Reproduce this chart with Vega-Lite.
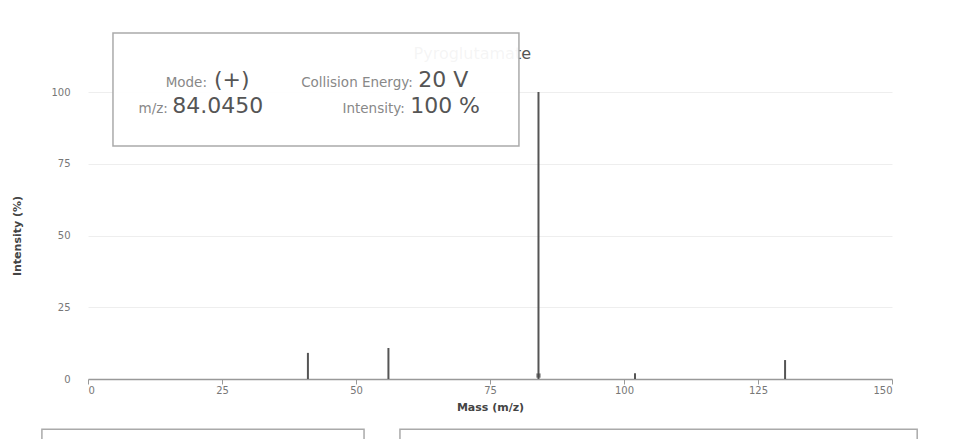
{
  "$schema": "https://vega.github.io/schema/vega-lite/v6.json",
  "width": 804,
  "height": 287,
  "autosize": {"type": "none"},
  "padding": {"left": 88, "top": 92, "right": 87, "bottom": 60},
  "background": "white",
  "config": {
    "font": "DejaVu Sans",
    "view": {"stroke": null},
    "axis": {"labelFont": "DejaVu Sans", "titleFont": "DejaVu Sans"}
  },
  "datasets": {
    "peaks": [
      {"mz": 41.03, "intensity": 9.1, "base": 0},
      {"mz": 56.05, "intensity": 10.8, "base": 0},
      {"mz": 84.045, "intensity": 100, "base": 0},
      {"mz": 102.05, "intensity": 2.0, "base": 0},
      {"mz": 130.05, "intensity": 6.6, "base": 0}
    ],
    "marker": [{"mz": 84.045, "intensity": 1.2}],
    "heading": [{"x": 82.65, "y": 111.5, "label": "Pyroglutamate"}],
    "box": [{"x": 4.66, "x2": 80.4, "y": 120.6, "y2": 81.2}],
    "smallText": [
      {"x": 22.2, "y": 101.7, "label": "Mode:"},
      {"x": 60.6, "y": 101.7, "label": "Collision Energy:"},
      {"x": 14.9, "y": 92.7, "label": "m/z:"},
      {"x": 59.1, "y": 92.7, "label": "Intensity:"}
    ],
    "bigText": [
      {"x": 23.5, "y": 101.7, "label": "(+)"},
      {"x": 61.6, "y": 101.7, "label": "20 V"},
      {"x": 15.7, "y": 92.7, "label": "84.0450"},
      {"x": 60.1, "y": 92.7, "label": "100 %"}
    ],
    "bottomBoxes": [
      {"x": -8.6, "x2": 51.5, "y": -17.5, "y2": -40},
      {"x": 58.2, "x2": 154.7, "y": -17.5, "y2": -40}
    ]
  },
  "layer": [
    {
      "data": {"name": "peaks"},
      "mark": {"type": "rule", "color": "#555555", "strokeWidth": 2},
      "encoding": {
        "x": {
          "field": "mz", "type": "quantitative",
          "scale": {"domain": [0, 150], "nice": false},
          "axis": {
            "values": [0, 25, 50, 75, 100, 125, 150],
            "title": "Mass (m/z)",
            "titleFontWeight": "bold",
            "titleFontSize": 11,
            "titleColor": "#444444",
            "titlePadding": 6,
            "labelFontSize": 10,
            "labelColor": "#777777",
            "labelPadding": 1,
            "domainColor": "#999999",
            "domainWidth": 1.5,
            "tickColor": "#999999",
            "tickSize": 5,
            "grid": false
          }
        },
        "y": {
          "field": "intensity", "type": "quantitative",
          "scale": {"domain": [0, 100], "nice": false},
          "axis": {
            "values": [0, 25, 50, 75, 100],
            "title": "Intensity (%)",
            "titleFontWeight": "bold",
            "titleFontSize": 11,
            "titleColor": "#444444",
            "titlePadding": 28,
            "labelFontSize": 10,
            "labelColor": "#777777",
            "labelPadding": 18,
            "domain": false,
            "ticks": false,
            "grid": true,
            "gridColor": "#eeeeee",
            "gridWidth": 1
          }
        },
        "y2": {"field": "base"}
      }
    },
    {
      "data": {"name": "marker"},
      "mark": {"type": "point", "shape": "square", "filled": true, "color": "#444444", "size": 18},
      "encoding": {
        "x": {"field": "mz", "type": "quantitative"},
        "y": {"field": "intensity", "type": "quantitative"}
      }
    },
    {
      "data": {"name": "heading"},
      "mark": {"type": "text", "align": "right", "baseline": "alphabetic", "fontSize": 16, "color": "#555555"},
      "encoding": {
        "x": {"field": "x", "type": "quantitative"},
        "y": {"field": "y", "type": "quantitative"},
        "text": {"field": "label"}
      }
    },
    {
      "data": {"name": "box"},
      "mark": {"type": "rect", "fill": "white", "fillOpacity": 0.94, "stroke": "#aaaaaa", "strokeWidth": 1.5},
      "encoding": {
        "x": {"field": "x", "type": "quantitative"},
        "x2": {"field": "x2"},
        "y": {"field": "y", "type": "quantitative"},
        "y2": {"field": "y2"}
      }
    },
    {
      "data": {"name": "smallText"},
      "mark": {"type": "text", "align": "right", "baseline": "alphabetic", "fontSize": 13.5, "color": "#888888"},
      "encoding": {
        "x": {"field": "x", "type": "quantitative"},
        "y": {"field": "y", "type": "quantitative"},
        "text": {"field": "label"}
      }
    },
    {
      "data": {"name": "bigText"},
      "mark": {"type": "text", "align": "left", "baseline": "alphabetic", "fontSize": 22, "color": "#555555"},
      "encoding": {
        "x": {"field": "x", "type": "quantitative"},
        "y": {"field": "y", "type": "quantitative"},
        "text": {"field": "label"}
      }
    },
    {
      "data": {"name": "bottomBoxes"},
      "mark": {"type": "rect", "fill": "white", "stroke": "#aaaaaa", "strokeWidth": 1.5},
      "encoding": {
        "x": {"field": "x", "type": "quantitative"},
        "x2": {"field": "x2"},
        "y": {"field": "y", "type": "quantitative"},
        "y2": {"field": "y2"}
      }
    }
  ]
}
